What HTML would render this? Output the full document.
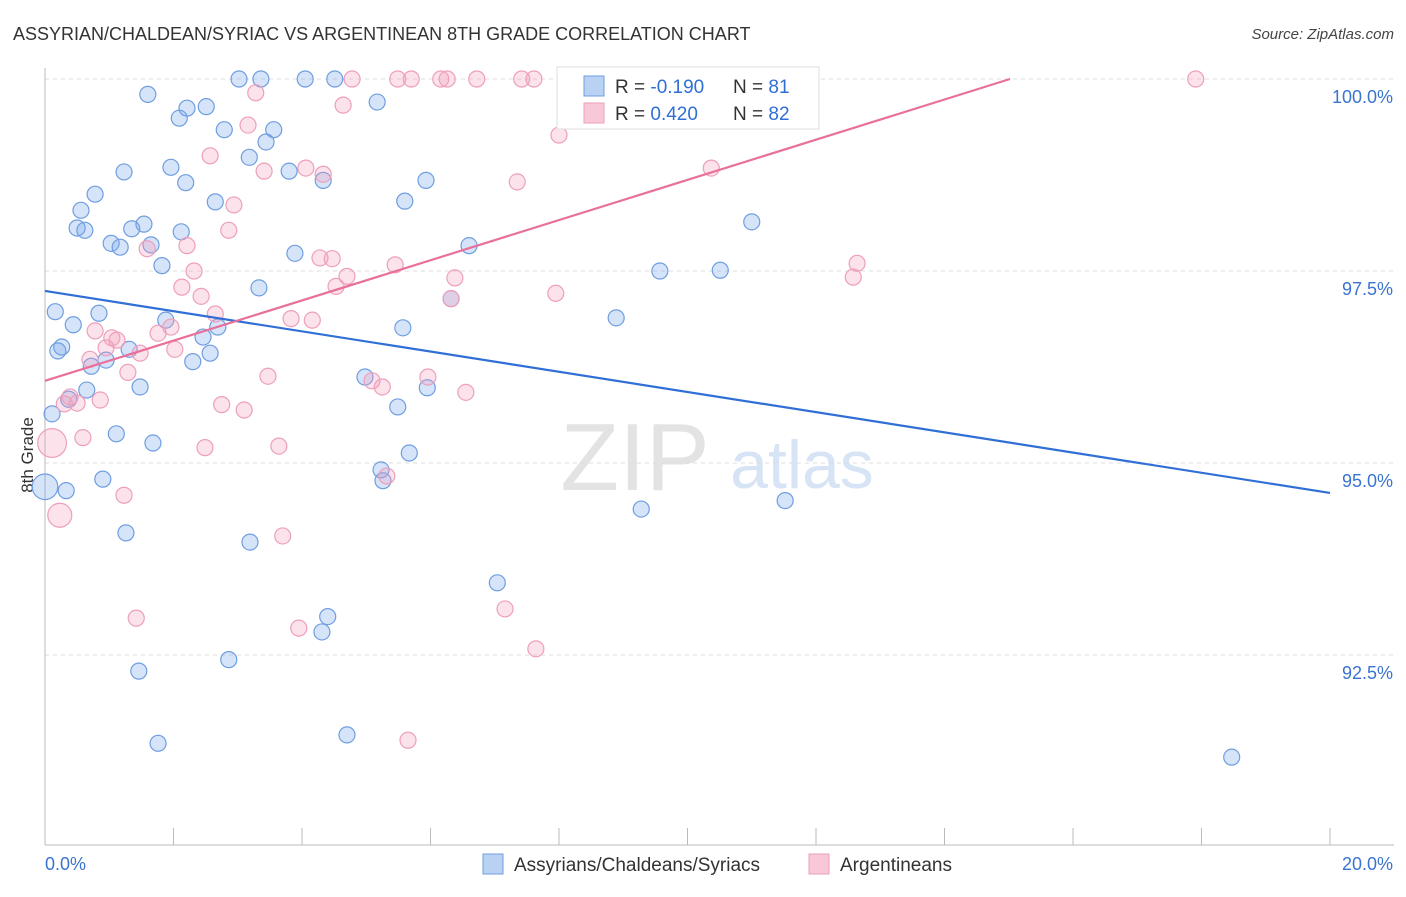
<!DOCTYPE html>
<html><head><meta charset="utf-8"><style>
body{margin:0;background:#fff;font-family:"Liberation Sans",sans-serif;}
svg text{font-family:"Liberation Sans",sans-serif;}
</style></head><body>
<svg id="chart" width="1406" height="892" xmlns="http://www.w3.org/2000/svg">
<text x="13" y="40" font-size="18" fill="#333">ASSYRIAN/CHALDEAN/SYRIAC VS ARGENTINEAN 8TH GRADE CORRELATION CHART</text>
<text x="1394" y="39" font-size="15" fill="#444" text-anchor="end" font-style="italic">Source: ZipAtlas.com</text>
<text x="33" y="455" font-size="17" fill="#333" text-anchor="middle" transform="rotate(-90 33 455)">8th Grade</text>
<g>
<text x="635" y="490" font-size="96" fill="#e3e3e3" text-anchor="middle" font-family="Liberation Serif">ZIP</text>
<text x="802" y="488" font-size="68" fill="#d6e4f5" text-anchor="middle">atlas</text>
</g>
<g id="grid"></g>
<g id="axes"></g>
<g id="points"></g>
<g id="lines"></g>
<g>
<rect x="557" y="67" width="262" height="62" fill="#fff" stroke="#ddd"/>
<rect x="584" y="76" width="20" height="20" fill="#b9d2f3" stroke="#6f9ee0"/>
<text x="615" y="93" font-size="19" fill="#333">R = <tspan fill="#2f6fd6">-0.190</tspan></text>
<text x="733" y="93" font-size="19" fill="#333">N = <tspan fill="#2f6fd6">81</tspan></text>
<rect x="584" y="103" width="20" height="20" fill="#f8c8d8" stroke="#ee9fbb"/>
<text x="615" y="120" font-size="19" fill="#333">R = <tspan fill="#2f6fd6"> 0.420</tspan></text>
<text x="733" y="120" font-size="19" fill="#333">N = <tspan fill="#2f6fd6">82</tspan></text>
</g>
<g>
<rect x="483" y="854" width="20" height="20" fill="#b9d2f3" stroke="#6f9ee0"/>
<text x="514" y="871" font-size="19" fill="#333">Assyrians/Chaldeans/Syriacs</text>
<rect x="809" y="854" width="20" height="20" fill="#f8c8d8" stroke="#ee9fbb"/>
<text x="840" y="871" font-size="19" fill="#333">Argentineans</text>
</g>
</svg>
<script>
const xTicks=[0,2,4,6,8,10,12,14,16,18,20];
const yTicks=[92.5,95,97.5,100];
const yTickLabels=["92.5%","95.0%","97.5%","100.0%"];
const blueX=[3.02,3.36,4.05,4.51,1.60,2.21,2.51,5.17,2.09,2.79,3.56,3.44,3.18,1.96,1.23,3.80,2.19,4.33,5.93,0.78,0.56,2.65,5.60,0.50,0.62,1.54,1.35,2.12,1.03,1.17,1.65,6.60,11.00,3.89,1.82,9.57,10.51,3.33,6.32,0.16,0.84,0.44,1.88,2.69,5.57,8.89,2.46,0.26,0.20,1.31,2.57,0.95,0.72,2.30,1.48,0.65,4.98,5.95,0.37,5.49,0.11,1.11,1.68,5.67,5.23,0.90,5.26,0,0.33,11.52,9.28,1.26,3.19,7.04,4.40,4.31,2.86,1.46,1.76,4.70,18.47];
const blueY=[100,100,100,100,99.80,99.62,99.64,99.70,99.49,99.34,99.34,99.18,98.98,98.85,98.79,98.80,98.65,98.68,98.68,98.50,98.29,98.40,98.41,98.06,98.03,98.11,98.05,98.01,97.86,97.81,97.84,97.83,98.14,97.73,97.57,97.50,97.51,97.28,97.14,96.97,96.95,96.80,96.86,96.77,96.76,96.89,96.64,96.51,96.46,96.48,96.43,96.34,96.26,96.32,95.99,95.95,96.12,95.98,95.83,95.73,95.64,95.38,95.26,95.13,94.91,94.79,94.77,94.69,94.64,94.51,94.40,94.09,93.97,93.44,93.00,92.80,92.44,92.29,91.35,91.46,91.17];
const blueSize=[1,1,1,1,1,1,1,1,1,1,1,1,1,1,1,1,1,1,1,1,1,1,1,1,1,1,1,1,1,1,1,1,1,1,1,1,1,1,1,1,1,1,1,1,1,1,1,1,1,1,1,1,1,1,1,1,1,1,1,1,1,1,1,1,1,1,1,1.6,1,1,1,1,1,1,1,1,1,1,1,1,1];
const pinkX=[3.28,4.78,5.49,5.70,6.16,6.26,6.72,7.42,7.61,8.17,9.01,9.48,17.91,4.64,3.16,8.00,2.57,3.41,4.06,4.33,7.35,10.37,2.94,2.86,2.21,1.59,4.28,4.47,5.45,4.70,2.32,12.64,12.58,6.38,2.13,2.43,4.53,6.32,7.95,2.65,3.83,4.16,1.96,1.76,0.78,1.12,1.04,0.95,1.48,2.02,0.70,1.29,3.47,5.09,5.25,5.96,6.55,0.39,0.30,0.50,0.86,2.75,3.10,0.59,0.11,2.49,3.64,5.32,1.23,0.23,3.70,1.42,3.95,7.16,7.64,5.65];
const pinkY=[99.82,100,100,100,100,100,100,100,100,100,100,100,100,99.66,99.40,99.27,99.00,98.80,98.84,98.76,98.66,98.84,98.36,98.03,97.83,97.79,97.67,97.66,97.58,97.43,97.50,97.60,97.42,97.41,97.29,97.17,97.30,97.14,97.21,96.94,96.88,96.86,96.77,96.69,96.72,96.60,96.63,96.50,96.43,96.48,96.35,96.18,96.13,96.07,95.99,96.12,95.92,95.86,95.77,95.78,95.82,95.76,95.69,95.33,95.26,95.20,95.22,94.83,94.58,94.32,94.05,92.98,92.85,93.10,92.58,91.39];
const pinkSize=pinkX.map((v,i)=>i===64?1.8:(i===69?1.5:1));
const blueTrend=[97.24,94.61];
const pinkTrend=[96.07,100,15.02];
const NS="http://www.w3.org/2000/svg";
const X0=45,X1=1330;
function sx(v){return X0+(v/20)*(X1-X0);}
function sy(v){return 79+(100-v)*76.8;}
function mk(tag,attrs,parent){const e=document.createElementNS(NS,tag);for(const k in attrs)e.setAttribute(k,attrs[k]);parent.appendChild(e);return e;}
const grid=document.getElementById('grid'),axes=document.getElementById('axes'),pts=document.getElementById('points'),lines=document.getElementById('lines');
yTicks.forEach((t,i)=>{
 const l=mk('line',{x1:X0,x2:1394,y1:sy(t),y2:sy(t),stroke:'#ddd','stroke-dasharray':'4,4'},grid);
 
 
 const tx=mk('text',{x:1393,y:sy(t)+24,'font-size':18,fill:'#3a74d0','text-anchor':'end'},axes);
 tx.textContent=yTickLabels[i];
 
 
});
const ax=mk('line',{x1:X0,x2:1394,y1:845,y2:845,stroke:'#bbb'},axes);


const ay=mk('line',{x1:X0,x2:X0,y1:68,y2:845,stroke:'#bbb'},axes);


xTicks.forEach(t=>{
 const l=mk('line',{x1:sx(t),x2:sx(t),y1:828,y2:845,stroke:'#bbb'},axes);
 
 
});
const xl0=mk('text',{x:45,y:870,'font-size':18,fill:'#3a74d0'},axes);xl0.textContent=xTicks[0].toFixed(1)+'%';


const xl1=mk('text',{x:1393,y:870,'font-size':18,fill:'#3a74d0','text-anchor':'end'},axes);xl1.textContent=xTicks[xTicks.length-1].toFixed(1)+'%';


blueX.forEach((v,i)=>{
 const c=mk('circle',{cx:sx(v),cy:sy(blueY[i]),r:8*blueSize[i],fill:'rgba(120,165,235,0.3)',stroke:'#6f9ee0','stroke-width':1.2},pts);
 
 
});
pinkX.forEach((v,i)=>{
 const c=mk('circle',{cx:sx(v),cy:sy(pinkY[i]),r:8*pinkSize[i],fill:'rgba(242,160,190,0.3)',stroke:'#ee9fbb','stroke-width':1.2},pts);
 
 
});
const bl=mk('line',{x1:sx(0),y1:sy(blueTrend[0]),x2:sx(20),y2:sy(blueTrend[1]),stroke:'#2f6fd6','stroke-width':2.2},lines);


const pl=mk('line',{x1:sx(0),y1:sy(pinkTrend[0]),x2:sx(pinkTrend[2]),y2:sy(pinkTrend[1]),stroke:'#e8709a','stroke-width':2.2},lines);


</script>
</body></html>
